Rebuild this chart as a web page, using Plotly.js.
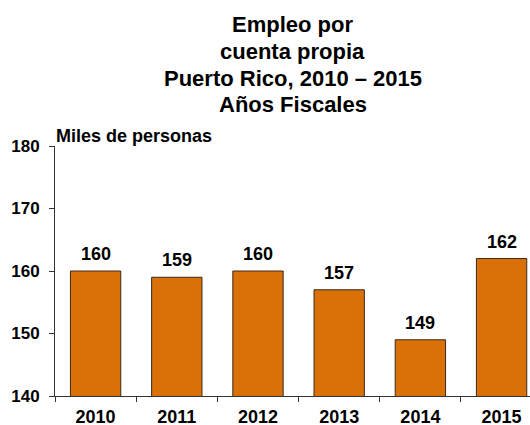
<!DOCTYPE html>
<html>
<head>
<meta charset="utf-8">
<script src="https://cdn.plot.ly/plotly-3.0.1.min.js"></script>
<style>html,body{margin:0;padding:0;background:#fff;}#chart{width:530px;height:425px;}</style>
</head>
<body>
<div id="chart"></div>
<script>
const years = ['2010', '2011', '2012', '2013', '2014', '2015'];
const values = [160, 159, 160, 157, 149, 162];
const titleLines = ['Empleo por', 'cuenta propia', 'Puerto Rico, 2010 \u2013 2015', 'A\u00f1os Fiscales'];
const yTicks = [140, 150, 160, 170, 180];
const yUnit = 'Miles de personas';

const FONT = 'Liberation Sans, Arial, sans-serif';
const plotTop = 146, plotBottom = 396;
function py(pix) { return (plotBottom - pix) / (plotBottom - plotTop); }

const titleY = [24.5, 51.5, 78, 104.5];
const annotations = [];
titleLines.forEach((t, i) => {
  annotations.push({
    text: '<b>' + t + '</b>', xref: 'paper', yref: 'paper', x: 0.501, y: py(titleY[i]),
    xanchor: 'center', yanchor: 'middle', showarrow: false,
    font: {family: FONT, size: 22, color: '#000'}
  });
});
annotations.push({
  text: '<b>' + yUnit + '</b>', xref: 'paper', yref: 'paper', x: -0.002, y: py(136),
  xanchor: 'left', yanchor: 'middle', showarrow: false,
  font: {family: FONT, size: 18, color: '#000'}
});
years.forEach((yr, i) => {
  annotations.push({
    text: '<b>' + values[i] + '</b>', x: i, y: values[i], xref: 'x', yref: 'y',
    xanchor: 'center', yanchor: 'middle', yshift: 17, showarrow: false,
    font: {family: FONT, size: 18, color: '#000'}
  });
});

const data = [{
  type: 'bar', x: years, y: values, width: 0.62,
  marker: {color: 'rgb(217,112,8)', line: {color: '#3a2a1a', width: 1}},
  hoverinfo: 'none'
}];

const layout = {
  width: 530, height: 425,
  margin: {l: 55, r: 0, t: plotTop, b: 425 - plotBottom, pad: 0},
  paper_bgcolor: '#fff', plot_bgcolor: '#fff',
  showlegend: false,
  font: {family: FONT, color: '#000'},
  xaxis: {
    type: 'category', range: [-0.5, 5.35], tickson: 'boundaries',
    ticks: 'outside', ticklen: 5, tickcolor: '#333', tickwidth: 1,
    showline: true, linecolor: '#333', linewidth: 1,
    showgrid: false, zeroline: false,
    tickfont: {family: FONT, size: 18, color: '#000'},
    ticklabelstandoff: 4, fixedrange: true,
    tickvals: years, ticktext: years.map(y => '<b>' + y + '</b>')
  },
  yaxis: {
    range: [140, 180], tickvals: yTicks, ticktext: yTicks.map(v => '<b>' + v + '</b>'),
    ticks: 'outside', ticklen: 5, tickcolor: '#333', tickwidth: 1,
    showline: true, linecolor: '#333', linewidth: 1,
    showgrid: false, zeroline: false,
    tickfont: {family: FONT, size: 17, color: '#000'},
    ticklabelstandoff: 6, fixedrange: true
  },
  annotations: annotations
};

Plotly.newPlot('chart', data, layout, {displayModeBar: false, staticPlot: true});
</script>
</body>
</html>
